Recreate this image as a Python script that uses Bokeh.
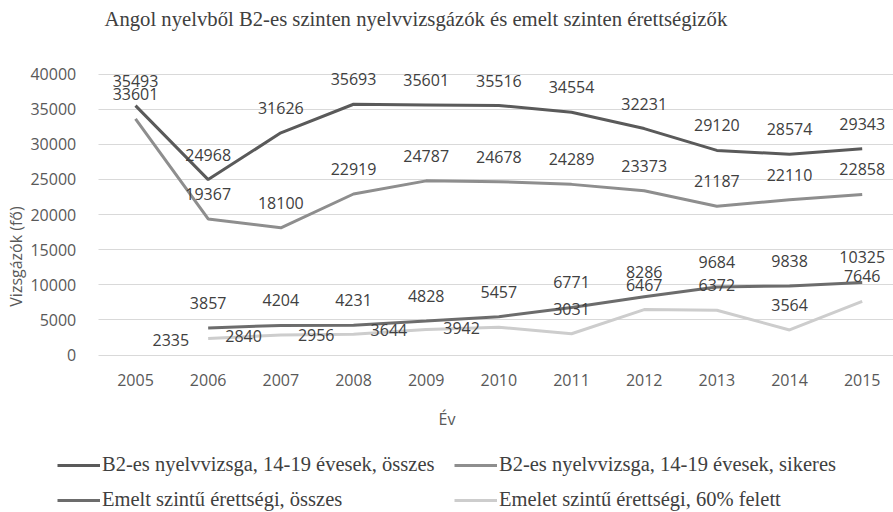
from bokeh.plotting import figure
from bokeh.models import Range1d, FixedTicker, ColumnDataSource, Label, Legend, LegendItem
from bokeh.embed import file_html
from bokeh.resources import INLINE
from bokeh.core.properties import value

# ---- data ----
years = [2005, 2006, 2007, 2008, 2009, 2010, 2011, 2012, 2013, 2014, 2015]
b2_total = [35493, 24968, 31626, 35693, 35601, 35516, 34554, 32231, 29120, 28574, 29343]
b2_passed = [33601, 19367, 18100, 22919, 24787, 24678, 24289, 23373, 21187, 22110, 22858]
years_emelt = [2006, 2007, 2008, 2009, 2010, 2011, 2012, 2013, 2014, 2015]
emelt_total = [3857, 4204, 4231, 4828, 5457, 6771, 8286, 9684, 9838, 10325]
emelt_60 = [2335, 2840, 2956, 3644, 3942, 3031, 6467, 6372, 3564, 7646]
y_ticks = [0, 5000, 10000, 15000, 20000, 25000, 30000, 35000, 40000]

title_text = "Angol nyelvből B2-es szinten nyelvvizsgázók és emelt szinten érettségizők"
names = ["B2-es nyelvvizsga, 14-19 évesek, összes",
         "B2-es nyelvvizsga, 14-19 évesek, sikeres",
         "Emelt szintű érettségi, összes",
         "Emelet szintű érettségi, 60% felett"]
y_title = "Vizsgázók (fő)"
x_title = "Év"

SANS = "Open Sans"
SERIF = "Liberation Serif"

# plot area edges (data units)
X_LEFT = 2004.487
X_RIGHT = 2015.4307
Y_BOTTOM = -356

p = figure(width=893, height=512,
           x_range=Range1d(2003.1423, 2015.4307),
           y_range=Range1d(-22420, 50463),
           output_backend="svg", toolbar_location=None,
           min_border_left=0, min_border_right=0,
           min_border_top=0, min_border_bottom=0)
p.outline_line_color = None
p.background_fill_color = "white"
p.border_fill_color = "white"

p.xgrid.grid_line_color = None
p.ygrid.grid_line_color = "#d9d9d9"
p.ygrid.grid_line_width = 1
p.ygrid.cross_bounds = (X_LEFT, X_RIGHT)

p.yaxis.ticker = FixedTicker(ticks=y_ticks)
p.xaxis.ticker = FixedTicker(ticks=years)
p.yaxis.fixed_location = X_LEFT
p.xaxis.fixed_location = Y_BOTTOM
for ax in (p.xaxis[0], p.yaxis[0]):
    ax.axis_line_color = None
    ax.major_tick_line_color = None
    ax.minor_tick_line_color = None
    ax.major_label_text_font = SANS
    ax.major_label_text_font_size = "16px"
    ax.major_label_text_color = "#595959"
    ax.axis_label_text_font = SANS
    ax.axis_label_text_font_size = "16px"
    ax.axis_label_text_font_style = "normal"
    ax.axis_label_text_color = "#595959"
p.yaxis.axis_label = y_title
p.xaxis.axis_label = x_title
p.yaxis.major_label_standoff = 16
p.yaxis.axis_label_standoff = 1
p.xaxis.major_label_standoff = 10
p.xaxis.axis_label_standoff = 19

colors = ["#5a5a5a", "#8e8e8e", "#6c6c6c", "#cdcdcd"]

series = [(years, b2_total), (years, b2_passed), (years_emelt, emelt_total), (years_emelt, emelt_60)]
renderers = [p.line(xs, ys, line_color=c, line_width=3) for (xs, ys), c in zip(series, colors)]

lab_kw = dict(text_font=value(SANS), text_font_size="16px", text_color="#404040")

for xs, ys in series[:3]:
    src = ColumnDataSource(dict(x=xs, y=ys, t=[str(v) for v in ys]))
    p.text(x="x", y="y", text="t", source=src, text_align="center",
           text_baseline="middle", y_offset=-25, **lab_kw)

# last series: first five labels to the left of the point, the rest above
n_left = 5
src_l = ColumnDataSource(dict(x=years_emelt[:n_left], y=emelt_60[:n_left],
                              t=[str(v) for v in emelt_60[:n_left]]))
p.text(x="x", y="y", text="t", source=src_l, text_align="right",
       text_baseline="middle", x_offset=-19, y_offset=1, **lab_kw)
src_a = ColumnDataSource(dict(x=years_emelt[n_left:], y=emelt_60[n_left:],
                              t=[str(v) for v in emelt_60[n_left:]]))
p.text(x="x", y="y", text="t", source=src_a, text_align="center",
       text_baseline="middle", y_offset=-25, **lab_kw)

# chart title
p.add_layout(Label(x=2004.573, y=47800, text=title_text, text_font=SERIF,
                   text_font_size="20.7px", text_color="#404040",
                   text_baseline="alphabetic", text_align="left"))

def make_legend(items, loc):
    return Legend(items=items, location=loc, orientation="vertical",
                  padding=0, margin=0, spacing=12,
                  glyph_width=43, glyph_height=22, label_height=22,
                  label_standoff=2, border_line_color=None,
                  background_fill_alpha=0,
                  label_text_font=SERIF, label_text_font_size="20.5px",
                  label_text_color="#404040")

p.add_layout(make_legend([LegendItem(label=names[0], renderers=[renderers[0]]),
                          LegendItem(label=names[2], renderers=[renderers[2]])], (57, 1)))
p.add_layout(make_legend([LegendItem(label=names[1], renderers=[renderers[1]]),
                          LegendItem(label=names[3], renderers=[renderers[3]])], (454, 1)))

open("out.html", "w").write(file_html(p, INLINE))
